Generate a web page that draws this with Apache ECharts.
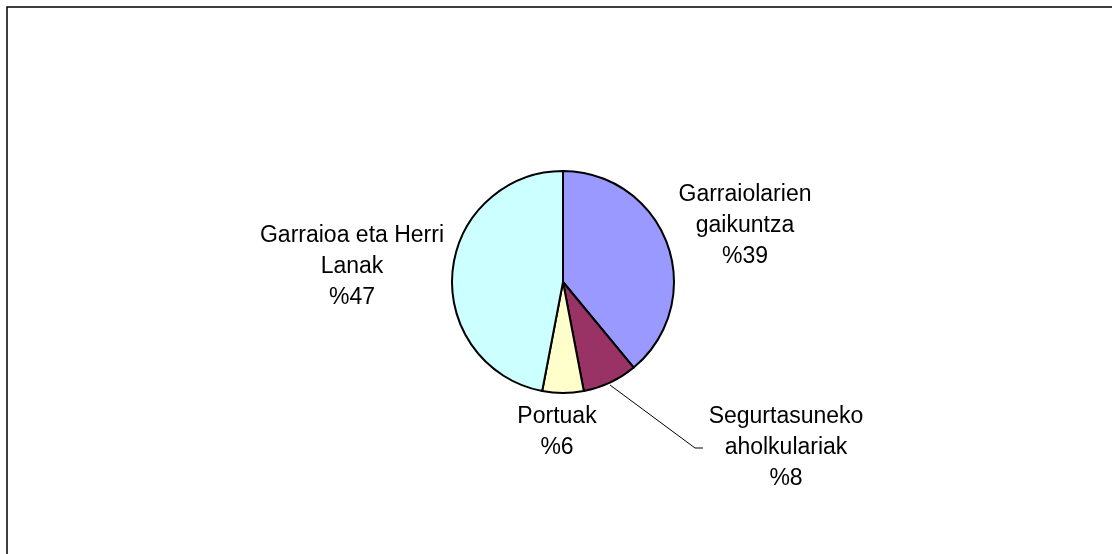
<!DOCTYPE html>
<html>
<head>
<meta charset="utf-8">
<script src="https://cdn.jsdelivr.net/npm/echarts@6/dist/echarts.min.js"></script>
<style>
  html, body { margin: 0; padding: 0; background: #fff; }
  #chart { width: 1112px; height: 554px; }
</style>
</head>
<body>
<div id="chart"></div>
<script>
const categories = ['Garraiolarien\ngaikuntza', 'Segurtasuneko\naholkulariak', 'Portuak', 'Garraioa eta Herri\nLanak'];
const values = [39, 8, 6, 47];
const colors = ['#9999FF', '#993366', '#FFFFCC', '#CCFFFF'];
const showLeader = [false, true, false, false];

// label placement (style only)
const labelPos = [
  { x: 745, y: 226 },
  { x: 786, y: 448 },
  { x: 557, y: 432 },
  { x: 352, y: 267 }
];
const leaderPoints = [null, [[610, 385], [695, 448], [703, 448]], null, null];

const chart = echarts.init(document.getElementById('chart'), null, { renderer: 'canvas' });

const data = categories.map((c, i) => ({
  name: c,
  value: values[i],
  itemStyle: { color: colors[i] },
  labelLine: { show: showLeader[i] }
}));

chart.setOption({
  animation: false,
  backgroundColor: '#ffffff',
  graphic: [{
    type: 'rect',
    shape: { x: 7, y: 7, width: 1200, height: 600 },
    style: { fill: 'none', stroke: '#000', lineWidth: 1.5 },
    silent: true
  }],
  series: [{
    type: 'pie',
    center: [563, 282],
    radius: 111,
    startAngle: 90,
    clockwise: true,
    avoidLabelOverlap: false,
    data: data,
    itemStyle: { borderColor: '#000', borderWidth: 2 },
    emphasis: { disabled: true },
    label: {
      show: true,
      position: 'outside',
      formatter: '{b}\n%{c}',
      fontFamily: 'Liberation Sans, Arial, sans-serif',
      fontSize: 23,
      lineHeight: 31,
      color: '#000',
      align: 'center'
    },
    labelLine: {
      lineStyle: { color: '#000', width: 1 },
      smooth: false
    },
    labelLayout: function (params) {
      const i = params.dataIndex;
      const p = labelPos[i];
      const out = { x: p.x, y: p.y, align: 'center', verticalAlign: 'middle' };
      if (leaderPoints[i]) out.labelLinePoints = leaderPoints[i];
      return out;
    }
  }]
});
</script>
</body>
</html>
